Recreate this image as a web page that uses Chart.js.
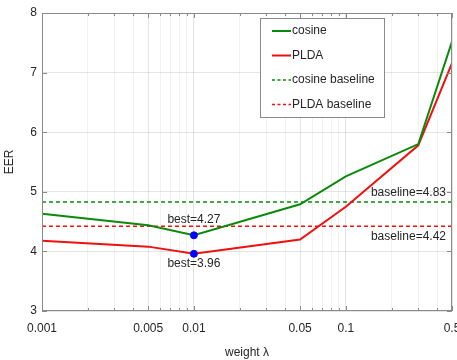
<!DOCTYPE html>
<html>
<head>
<meta charset="utf-8">
<script src="https://cdn.jsdelivr.net/npm/chart.js@4"></script>
<style>
  html, body { margin: 0; padding: 0; background: #fff; }
  #wrap { width: 457px; height: 360px; }
</style>
</head>
<body>
<div id="wrap"><canvas id="eerChart" width="457" height="360"></canvas></div>
<script>
// data
const weights = [0.001, 0.005, 0.01, 0.05, 0.1, 0.3, 0.5];
const cosineEER = [4.63, 4.44, 4.27, 4.79, 5.26, 5.80, 7.52];
const pldaEER = [4.18, 4.08, 3.96, 4.20, 4.75, 5.78, 7.16];
const cosineBaseline = 4.83;
const pldaBaseline = 4.42;
const bestCosine = { x: 0.01, y: 4.27 };
const bestPlda = { x: 0.01, y: 3.96 };
const xTickLabels = [0.001, 0.005, 0.01, 0.05, 0.1, 0.5];
const xMinorTicks = [0.002, 0.003, 0.004, 0.006, 0.007, 0.008, 0.009,
                     0.02, 0.03, 0.04, 0.06, 0.07, 0.08, 0.09, 0.2, 0.3, 0.4];

const FONT = '"Liberation Sans", Arial, Helvetica, sans-serif';
const GREEN = '#0a8a0a';
const RED = '#f01010';
const TEXT = '#262626';
const FRAME = '#8a8a8a';

function toPoints(xs, ys) {
    return xs.map((x, i) => ({ x: x, y: ys[i] }));
}

// frame, inward ticks, legend and text labels
const decorPlugin = {
    id: 'decor',
    afterDatasetsDraw(chart) {
        const ctx = chart.ctx;
        const area = chart.chartArea;
        const xs = chart.scales.x;
        const ys = chart.scales.y;
        ctx.save();

        // inward tick marks
        ctx.strokeStyle = FRAME;
        ctx.lineWidth = 1;
        ctx.beginPath();
        xs.ticks.forEach(t => {
            const px = Math.round(xs.getPixelForValue(t.value)) + 0.5;
            const len = xTickLabels.includes(t.value) ? 5 : 3;
            ctx.moveTo(px, area.bottom); ctx.lineTo(px, area.bottom - len);
            ctx.moveTo(px, area.top); ctx.lineTo(px, area.top + len);
        });
        ys.ticks.forEach(t => {
            const py = Math.round(ys.getPixelForValue(t.value)) + 0.5;
            ctx.moveTo(area.left, py); ctx.lineTo(area.left + 5, py);
            ctx.moveTo(area.right, py); ctx.lineTo(area.right - 5, py);
        });
        ctx.stroke();

        // box
        ctx.strokeStyle = FRAME;
        ctx.strokeRect(Math.round(area.left) + 0.5, Math.round(area.top) + 0.5,
            Math.round(area.right - area.left) - 1, Math.round(area.bottom - area.top) - 1);

        // text annotations
        ctx.fillStyle = TEXT;
        ctx.font = '12px ' + FONT;
        ctx.textBaseline = 'middle';
        ctx.textAlign = 'center';
        const bx = xs.getPixelForValue(bestCosine.x);
        ctx.fillText('best=' + bestCosine.y.toFixed(2), bx, ys.getPixelForValue(bestCosine.y) - 16);
        ctx.fillText('best=' + bestPlda.y.toFixed(2), bx, ys.getPixelForValue(bestPlda.y) + 10);
        ctx.textAlign = 'right';
        ctx.fillText('baseline=' + cosineBaseline.toFixed(2), area.right - 6, ys.getPixelForValue(cosineBaseline) - 9);
        ctx.fillText('baseline=' + pldaBaseline.toFixed(2), area.right - 6, ys.getPixelForValue(pldaBaseline) + 10);

        // legend
        const lx = 260, ly = 18, lw = 124, lh = 99;
        ctx.fillStyle = '#fff';
        ctx.fillRect(lx, ly, lw, lh);
        ctx.strokeStyle = FRAME;
        ctx.strokeRect(lx + 0.5, ly + 0.5, lw, lh);
        const items = chart.data.datasets.filter(d => d.legend);
        items.forEach((d, i) => {
            const y = ly + 13 + i * 24.5;
            ctx.strokeStyle = d.borderColor;
            ctx.lineWidth = d.legend === 'solid' ? 2 : 1.5;
            ctx.setLineDash(d.legend === 'solid' ? [] : [3, 2.5]);
            ctx.beginPath();
            ctx.moveTo(272, y);
            ctx.lineTo(291, y);
            ctx.stroke();
            ctx.setLineDash([]);
            ctx.fillStyle = TEXT;
            ctx.textAlign = 'left';
            ctx.fillText(d.label, 292, y);
        });
        ctx.restore();
    }
};

const allXTicks = xTickLabels.concat(xMinorTicks).sort((a, b) => a - b);

new Chart(document.getElementById('eerChart'), {
    type: 'line',
    data: {
        datasets: [
            {
                label: 'cosine',
                legend: 'solid',
                data: toPoints(weights, cosineEER),
                borderColor: GREEN,
                borderWidth: 2,
                pointRadius: 0,
                order: 2
            },
            {
                label: 'PLDA',
                legend: 'solid',
                data: toPoints(weights, pldaEER),
                borderColor: RED,
                borderWidth: 2,
                pointRadius: 0,
                order: 2
            },
            {
                label: 'cosine baseline',
                legend: 'dashed',
                data: toPoints([weights[0], weights[weights.length - 1]], [cosineBaseline, cosineBaseline]),
                borderColor: GREEN,
                borderWidth: 1.5,
                borderDash: [4, 3],
                pointRadius: 0,
                order: 3
            },
            {
                label: 'PLDA baseline',
                legend: 'dashed',
                data: toPoints([weights[0], weights[weights.length - 1]], [pldaBaseline, pldaBaseline]),
                borderColor: RED,
                borderWidth: 1.5,
                borderDash: [4, 3],
                pointRadius: 0,
                order: 3
            },
            {
                label: 'best',
                data: [bestCosine, bestPlda],
                showLine: false,
                pointRadius: 3.5,
                pointBackgroundColor: '#0000ff',
                pointBorderColor: '#0000ff',
                order: 1
            }
        ]
    },
    options: {
        responsive: false,
        animation: false,
        layout: { padding: { top: 13, right: 5, left: 0, bottom: 0 } },
        plugins: {
            legend: { display: false },
            tooltip: { enabled: false }
        },
        scales: {
            x: {
                type: 'logarithmic',
                min: 0.001,
                max: 0.5,
                afterBuildTicks: function(scale) {
                    scale.ticks = allXTicks.map(v => ({ value: v }));
                },
                afterFit: function(scale) {
                    scale.height = 49;
                    scale.paddingLeft = 0;
                    scale.paddingRight = 0;
                },
                border: { display: false },
                grid: {
                    drawTicks: false,
                    color: function(c) {
                        return xTickLabels.includes(c.tick.value) ? 'rgba(0,0,0,0.10)' : 'rgba(0,0,0,0.05)';
                    }
                },
                ticks: {
                    autoSkip: false,
                    maxRotation: 0,
                    padding: 10,
                    color: TEXT,
                    font: { family: FONT, size: 12 },
                    callback: function(v) {
                        return xTickLabels.includes(v) ? String(v) : '';
                    }
                },
                title: {
                    display: true,
                    text: 'weight λ',
                    color: TEXT,
                    font: { family: FONT, size: 12 },
                    padding: { top: 15, bottom: 0 }
                }
            },
            y: {
                min: 3,
                max: 8,
                afterFit: function(scale) { scale.width = 42; },
                border: { display: false },
                grid: { drawTicks: false, color: 'rgba(0,0,0,0.10)' },
                ticks: {
                    stepSize: 1,
                    padding: 5,
                    color: TEXT,
                    font: { family: FONT, size: 12 }
                },
                title: {
                    display: true,
                    text: 'EER',
                    color: TEXT,
                    font: { family: FONT, size: 12 },
                    padding: { top: 2, bottom: 4 }
                }
            }
        }
    },
    plugins: [decorPlugin]
});
</script>
</body>
</html>
